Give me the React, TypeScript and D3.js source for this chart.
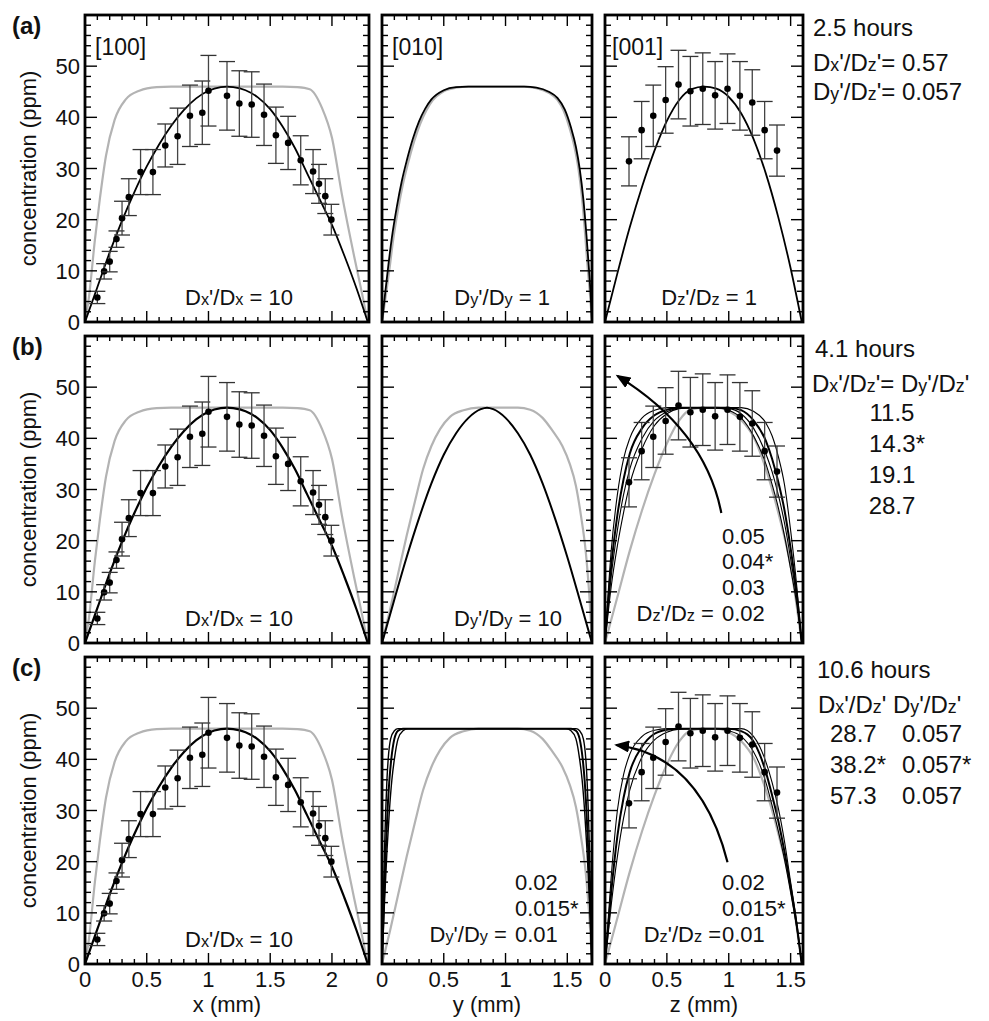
import React from 'react';
import * as d3 from 'd3';

// ---------- tick labels ----------
const concTicks = [0, 10, 20, 30, 40, 50];
const xTickLabels = [0, 0.5, 1, 1.5, 2];
const yTickLabels = [0, 0.5, 1, 1.5];
const zTickLabels = [0, 0.5, 1, 1.5];

// ---------- measured profiles (points with error bars) ----------
const xPos = [0.1, 0.155, 0.2, 0.255, 0.3, 0.355, 0.45, 0.55, 0.65, 0.75, 0.85, 0.95, 1.0, 1.15, 1.25, 1.35, 1.45, 1.546, 1.645, 1.747, 1.847, 1.895, 1.946, 1.995];
const xConc = [4.8, 9.9, 11.8, 16.2, 20.3, 24.4, 29.3, 29.3, 34.5, 36.3, 40.3, 40.9, 45.2, 44.2, 42.7, 42.5, 40.5, 36.5, 35.0, 31.6, 29.4, 27.0, 24.6, 20.0];
const xErr = [1.2, 1.5, 2, 1.6, 3.3, 3.6, 4.4, 4.4, 4.2, 5.5, 6, 6.2, 6.9, 6.7, 6.4, 6.4, 6, 5.5, 5.2, 4.8, 4.3, 3.8, 3.4, 3];

const zPos = [0.194, 0.296, 0.39, 0.49, 0.594, 0.69, 0.79, 0.89, 0.99, 1.09, 1.19, 1.29, 1.39];
const zConc = [31.4, 37.5, 40.3, 43.4, 46.4, 45.1, 45.6, 44.3, 45.6, 44.2, 42.9, 37.5, 33.5];
const zErr = [4.8, 5.6, 6, 6.5, 6.7, 6.8, 7, 6.6, 6.8, 6.7, 6.4, 5.6, 5];

// ---------- model curves [position mm, ppm] ----------
const xGray = [[0, 0], [0.03, 4.5], [0.08, 16], [0.12, 24], [0.17, 32.5], [0.24, 39.5], [0.33, 43.5], [0.44, 45.2], [0.58, 45.9], [0.7, 46], [1.6, 46], [1.72, 45.9], [1.82, 45.5], [1.92, 41.8], [2.0, 36], [2.08, 25], [2.18, 12.8], [2.245, 5.4], [2.29, 0]];
const xFit = [[0, 0], [0.1, 6.8], [0.2, 13.6], [0.3, 19.8], [0.4, 25.4], [0.5, 30.4], [0.6, 34.7], [0.7, 38.4], [0.8, 41.4], [0.9, 43.7], [1.0, 45.2], [1.1, 45.9], [1.15, 46], [1.2, 45.9], [1.3, 45.3], [1.4, 43.9], [1.5, 41.6], [1.6, 38.2], [1.7, 34], [1.8, 29], [1.9, 24], [2.0, 19], [2.1, 13], [2.2, 6.5], [2.29, 0]];

const yBlackA = [[0, 0], [0.025, 5.5], [0.05, 10.8], [0.08, 16.5], [0.12, 22.5], [0.16, 27.5], [0.2, 31.5], [0.25, 35.8], [0.3, 39.2], [0.35, 41.7], [0.4, 43.5], [0.5, 45.3], [0.6, 45.9], [0.7, 46], [1.15, 46], [1.25, 45.8], [1.35, 45], [1.42, 43.8], [1.48, 41.5], [1.53, 38], [1.57, 34.2], [1.6, 30], [1.63, 24], [1.655, 17], [1.675, 10.5], [1.69, 5], [1.7, 0]];
const yGrayA = [[0, 0], [0.03, 5], [0.06, 10.3], [0.09, 16], [0.13, 22], [0.17, 27], [0.21, 31], [0.26, 35.3], [0.31, 38.8], [0.36, 41.4], [0.41, 43.3], [0.5, 45.1], [0.6, 45.8], [0.7, 46], [1.15, 46], [1.25, 45.7], [1.35, 44.8], [1.42, 43.4], [1.47, 41.3], [1.52, 37.8], [1.56, 34], [1.59, 30], [1.62, 24], [1.645, 17], [1.665, 10.5], [1.685, 5], [1.7, 0]];
const yBlackB = [[0, 0], [0.1, 8.5], [0.2, 16.8], [0.3, 24.4], [0.4, 31.2], [0.5, 36.8], [0.6, 41], [0.7, 44], [0.8, 45.7], [0.85, 46], [0.9, 45.7], [1.0, 44], [1.1, 41], [1.2, 36.8], [1.3, 31.2], [1.4, 24.4], [1.5, 16.8], [1.6, 8.5], [1.7, 0]];
const yGrayBC = [[0, 0], [0.065, 6.5], [0.13, 13.5], [0.2, 21], [0.27, 28], [0.333, 34], [0.4, 38.5], [0.47, 41.8], [0.55, 44.2], [0.66, 45.5], [0.78, 46], [1.1, 46], [1.2, 45.6], [1.3, 44], [1.38, 41.5], [1.46, 38.5], [1.52, 35], [1.57, 30.7], [1.61, 25], [1.65, 17.7], [1.675, 10.5], [1.69, 4.7], [1.7, 0]];
const yC020 = [[0, 0], [0.01, 12], [0.02, 22], [0.03, 30], [0.04, 36], [0.05, 40], [0.07, 44], [0.1, 45.6], [0.13, 46], [1.57, 46], [1.6, 45.6], [1.63, 44], [1.65, 40], [1.66, 36], [1.67, 30], [1.68, 22], [1.69, 12], [1.7, 0]];
const yC015 = [[0, 0], [0.015, 12], [0.03, 22], [0.045, 30], [0.06, 36], [0.075, 40], [0.1, 44], [0.13, 45.6], [0.17, 46], [1.53, 46], [1.57, 45.6], [1.6, 44], [1.625, 40], [1.64, 36], [1.655, 30], [1.67, 22], [1.685, 12], [1.7, 0]];
const yC010 = [[0, 0], [0.02, 12], [0.04, 22], [0.06, 30], [0.08, 36], [0.1, 40], [0.13, 44], [0.17, 45.6], [0.21, 46], [1.49, 46], [1.53, 45.6], [1.57, 44], [1.6, 40], [1.62, 36], [1.64, 30], [1.66, 22], [1.68, 12], [1.7, 0]];

const zBlackA = [[0, 0], [0.1, 9.5], [0.2, 18.5], [0.3, 26.5], [0.4, 33.5], [0.5, 39.3], [0.6, 43.4], [0.7, 45.5], [0.8, 46], [0.9, 45.6], [1.0, 44], [1.1, 40.8], [1.2, 35.8], [1.3, 29], [1.4, 20.5], [1.5, 10.5], [1.59, 0]];
const zGray = [[0, 0], [0.1, 9], [0.2, 18], [0.3, 26], [0.4, 33], [0.5, 39], [0.6, 43.5], [0.7, 45.7], [0.8, 46], [0.9, 46], [1.0, 45.3], [1.1, 43.6], [1.2, 40.3], [1.3, 34], [1.4, 25.5], [1.5, 15], [1.59, 0]];
const zB005 = [[0, 0], [0.05, 18], [0.1, 29], [0.15, 36], [0.2, 40], [0.3, 44], [0.4, 45.5], [0.5, 46], [1.1, 46], [1.2, 45.3], [1.3, 43], [1.35, 40.5], [1.4, 36.5], [1.45, 31], [1.5, 22], [1.55, 11], [1.59, 0]];
const zB004 = [[0, 0], [0.05, 15], [0.1, 25], [0.15, 32], [0.2, 37], [0.3, 42], [0.4, 44.5], [0.5, 45.6], [0.6, 46], [1.0, 46], [1.1, 45.5], [1.2, 43.5], [1.3, 39.5], [1.35, 36], [1.4, 31.5], [1.45, 26], [1.5, 18.5], [1.55, 9.5], [1.59, 0]];
const zB003 = [[0, 0], [0.05, 13], [0.1, 22], [0.15, 29], [0.2, 34], [0.3, 40], [0.4, 43.5], [0.5, 45.2], [0.6, 45.9], [0.7, 46], [1.0, 45.8], [1.1, 44.8], [1.2, 42], [1.3, 37], [1.35, 33.5], [1.4, 29], [1.45, 23.5], [1.5, 16.5], [1.55, 8.5], [1.59, 0]];
const zB002 = [[0, 0], [0.05, 11], [0.1, 19], [0.15, 25.5], [0.2, 31], [0.3, 38], [0.4, 42.5], [0.5, 44.8], [0.6, 45.8], [0.7, 46], [0.9, 46], [1.0, 45.5], [1.1, 44], [1.2, 40.5], [1.3, 35], [1.35, 31], [1.4, 26.5], [1.45, 21], [1.5, 14.5], [1.55, 7.5], [1.59, 0]];
const zC020 = [[0, 0], [0.05, 17], [0.1, 30], [0.15, 37], [0.2, 41], [0.3, 44.5], [0.4, 45.7], [0.5, 46], [1.1, 46], [1.2, 44.5], [1.25, 42.5], [1.3, 39.5], [1.35, 35.5], [1.4, 30.5], [1.45, 24], [1.5, 16], [1.55, 8], [1.59, 0]];
const zC015 = [[0, 0], [0.05, 14], [0.1, 25], [0.15, 32.5], [0.2, 37.5], [0.3, 42.5], [0.4, 45], [0.5, 45.8], [0.6, 46], [1.0, 46], [1.1, 45.5], [1.2, 43.5], [1.25, 41], [1.3, 37.5], [1.35, 33], [1.4, 28], [1.45, 22], [1.5, 15], [1.55, 7.5], [1.59, 0]];
const zC010 = [[0, 0], [0.05, 11.5], [0.1, 21], [0.15, 28.5], [0.2, 34], [0.3, 40.5], [0.4, 43.8], [0.5, 45.3], [0.6, 45.9], [0.7, 46], [0.9, 46], [1.0, 45.6], [1.1, 44.5], [1.2, 41.5], [1.25, 39], [1.3, 35.5], [1.35, 31], [1.4, 26], [1.45, 20.5], [1.5, 14], [1.55, 7], [1.59, 0]];

// arrows [tail, control, head] in (mm, ppm)
const arrowB = [[0.94, 25.4], [0.81, 41.6], [0.1, 52.2]];
const arrowC = [[0.99, 19.9], [0.77, 40.8], [0.09, 42.8]];

// ---------- layout ----------
const FONT = 'Liberation Sans, Arial, Helvetica, sans-serif';
const rowTops = [15, 336, 657];
const rowH = 307;
const cols = [
  { x0: 85, x1: 369, max: 2.3 },
  { x0: 382, x1: 592, max: 1.7 },
  { x0: 605, x1: 803, max: 1.6 },
];

type Curve = { pts: number[][]; gray?: boolean; w?: number };

function Rich({ x, y, text, anchor = 'start', size = 22 }: any) {
  const parts: { t: string; s: boolean }[] = [];
  let buf = '';
  for (let i = 0; i < text.length; i++) {
    if (text[i] === '_') {
      if (buf) { parts.push({ t: buf, s: false }); buf = ''; }
      parts.push({ t: text[i + 1], s: true });
      i++;
    } else buf += text[i];
  }
  if (buf) parts.push({ t: buf, s: false });
  return (
    <text x={x} y={y} textAnchor={anchor} fontSize={size} fontFamily={FONT} fill="#111" style={{ whiteSpace: 'pre' }}>
      {parts.map((p, i) => (
        <tspan key={i} fontSize={p.s ? size * 0.74 : size}>{p.t}</tspan>
      ))}
    </text>
  );
}

function Panel({ row, col, curves, data, arrow, children }: any) {
  const c = cols[col];
  const top = rowTops[row];
  const bottom = top + rowH;
  const xs = d3.scaleLinear().domain([0, c.max]).range([c.x0, c.x1]);
  const ys = d3.scaleLinear().domain([0, 60]).range([bottom, top]);
  const line = d3.line<number[]>().x(d => xs(d[0])).y(d => ys(d[1])).curve(d3.curveMonotoneX);
  const xt = d3.range(0, c.max + 1e-6, 0.1);
  const yt = d3.range(0, 60.001, 2);
  const isMajX = (v: number) => Math.abs(v / 0.5 - Math.round(v / 0.5)) < 1e-6;
  const isMajY = (v: number) => Math.abs(v % 10) < 1e-6;
  let arrowPath = null;
  if (arrow) {
    const [p0, p1, p2] = arrow;
    arrowPath = `M${xs(p0[0])},${ys(p0[1])} Q${xs(p1[0])},${ys(p1[1])} ${xs(p2[0])},${ys(p2[1])}`;
  }
  return (
    <g>
      <defs>
        <clipPath id={`clip-${row}-${col}`}>
          <rect x={c.x0} y={top} width={c.x1 - c.x0} height={rowH} />
        </clipPath>
      </defs>
      <g clipPath={`url(#clip-${row}-${col})`}>
        {curves.map((cv: Curve, i: number) => (
          <path key={i} d={line(cv.pts) || ''} fill="none" stroke={cv.gray ? '#b3b3b3' : '#000'} strokeWidth={cv.w || (cv.gray ? 2.2 : 1.6)} />
        ))}
      </g>
      {data && data.pos.map((p: number, i: number) => {
        const cx = xs(p);
        const lo = ys(data.conc[i] - data.err[i]);
        const hi = ys(data.conc[i] + data.err[i]);
        return (
          <g key={i}>
            <line x1={cx} x2={cx} y1={lo} y2={hi} stroke="#444" strokeWidth={1.3} />
            <line x1={cx - 8} x2={cx + 8} y1={lo} y2={lo} stroke="#333" strokeWidth={1.3} />
            <line x1={cx - 8} x2={cx + 8} y1={hi} y2={hi} stroke="#333" strokeWidth={1.3} />
            <circle cx={cx} cy={ys(data.conc[i])} r={3.3} fill="#000" />
          </g>
        );
      })}
      {arrowPath && <path d={arrowPath} fill="none" stroke="#000" strokeWidth={2.2} markerEnd="url(#arrowhead)" />}
      {/* ticks */}
      {xt.map((v, i) => {
        const L = isMajX(v) ? 11 : 5;
        const px = xs(v);
        return (
          <g key={'xt' + i}>
            <line x1={px} x2={px} y1={bottom} y2={bottom - L} stroke="#000" strokeWidth={1.4} />
            <line x1={px} x2={px} y1={top} y2={top + L} stroke="#000" strokeWidth={1.4} />
          </g>
        );
      })}
      {yt.map((v, i) => {
        const L = isMajY(v) ? 12 : 6;
        const py = ys(v);
        return (
          <g key={'yt' + i}>
            <line x1={c.x0} x2={c.x0 + L} y1={py} y2={py} stroke="#000" strokeWidth={1.4} />
            <line x1={c.x1} x2={c.x1 - L} y1={py} y2={py} stroke="#000" strokeWidth={1.4} />
          </g>
        );
      })}
      <rect x={c.x0} y={top} width={c.x1 - c.x0} height={rowH} fill="none" stroke="#000" strokeWidth={2.8} />
      {col === 0 && concTicks.map(v => (
        <text key={'yl' + v} x={c.x0 - 5} y={ys(v) + 8} textAnchor="end" fontSize={22} fontFamily={FONT} fill="#111">{v}</text>
      ))}
      {row === 2 && (col === 0 ? xTickLabels : col === 1 ? yTickLabels : zTickLabels).map(v => (
        <text key={'xl' + v} x={xs(v)} y={bottom + 23} textAnchor="middle" fontSize={22} fontFamily={FONT} fill="#111">{v}</text>
      ))}
      {row === 2 && (
        <text x={(c.x0 + c.x1) / 2} y={bottom + 48} textAnchor="middle" fontSize={22} fontFamily={FONT} fill="#111">
          {['x (mm)', 'y (mm)', 'z (mm)'][col]}
        </text>
      )}
      {col === 0 && (
        <text transform={`translate(36,${top + rowH / 2}) rotate(-90)`} textAnchor="middle" fontSize={22} fontFamily={FONT} fill="#111">concentration (ppm)</text>
      )}
      {children}
    </g>
  );
}

export default function App() {
  const xData = { pos: xPos, conc: xConc, err: xErr };
  const zData = { pos: zPos, conc: zConc, err: zErr };
  const bot = (r: number) => rowTops[r] + rowH;
  const xPanel = (r: number) => (
    <Panel row={r} col={0} curves={[{ pts: xGray, gray: true }, { pts: xFit, w: r === 0 ? 1.8 : 2.2 }]} data={xData}>
      <Rich x={293} y={bot(r) - 17} text={"D_x'/D_x = 10"} anchor="end" />
    </Panel>
  );
  const annot = (r: number, k: number) => rowTops[r] + [21, 56, 85, 116, 147, 178][k];
  return (
    <svg width={989} height={1021} style={{ position: 'absolute', left: 0, top: 0, background: '#fff' }} fontFamily={FONT}>
      <defs>
        <marker id="arrowhead" markerUnits="userSpaceOnUse" markerWidth={16} markerHeight={12} refX={13} refY={6} orient="auto">
          <path d="M0,0 L15,6 L0,12 Z" fill="#000" />
        </marker>
      </defs>
      <rect width={989} height={1021} fill="#fff" />

      {/* row a */}
      {xPanel(0)}
      <Panel row={0} col={1} curves={[{ pts: yGrayA, gray: true }, { pts: yBlackA, w: 1.8 }]}>
        <Rich x={550} y={bot(0) - 17} text={"D_y'/D_y = 1"} anchor="end" />
      </Panel>
      <Panel row={0} col={2} curves={[{ pts: zBlackA, w: 1.8 }]} data={zData}>
        <Rich x={757} y={bot(0) - 17} text={"D_z'/D_z = 1"} anchor="end" />
      </Panel>
      <text x={95} y={rowTops[0] + 40} fontSize={23} fontFamily={FONT} fill="#111">[100]</text>
      <text x={392} y={rowTops[0] + 40} fontSize={23} fontFamily={FONT} fill="#111">[010]</text>
      <text x={612} y={rowTops[0] + 40} fontSize={23} fontFamily={FONT} fill="#111">[001]</text>

      {/* row b */}
      {xPanel(1)}
      <Panel row={1} col={1} curves={[{ pts: yGrayBC, gray: true }, { pts: yBlackB, w: 2 }]}>
        <Rich x={562} y={bot(1) - 17} text={"D_y'/D_y = 10"} anchor="end" />
      </Panel>
      <Panel row={1} col={2} curves={[{ pts: zGray, gray: true }, { pts: zB005, w: 1.1 }, { pts: zB004, w: 2 }, { pts: zB003, w: 1.1 }, { pts: zB002, w: 1.1 }]} data={zData} arrow={arrowB}>
        <Rich x={722} y={bot(1) - 99} text={"0.05"} />
        <Rich x={722} y={bot(1) - 74} text={"0.04*"} />
        <Rich x={722} y={bot(1) - 48} text={"0.03"} />
        <Rich x={720} y={bot(1) - 22} text={"D_z'/D_z = "} anchor="end" />
        <Rich x={722} y={bot(1) - 22} text={"0.02"} />
      </Panel>

      {/* row c */}
      {xPanel(2)}
      <Panel row={2} col={1} curves={[{ pts: yGrayBC, gray: true }, { pts: yC020, w: 1.4 }, { pts: yC015, w: 2 }, { pts: yC010, w: 1.4 }]}>
        <Rich x={515} y={bot(2) - 74} text={"0.02"} />
        <Rich x={515} y={bot(2) - 48} text={"0.015*"} />
        <Rich x={513} y={bot(2) - 22} text={"D_y'/D_y = "} anchor="end" />
        <Rich x={515} y={bot(2) - 22} text={"0.01"} />
      </Panel>
      <Panel row={2} col={2} curves={[{ pts: zGray, gray: true }, { pts: zC020, w: 1.1 }, { pts: zC015, w: 2 }, { pts: zC010, w: 1.1 }]} data={zData} arrow={arrowC}>
        <Rich x={722} y={bot(2) - 74} text={"0.02"} />
        <Rich x={722} y={bot(2) - 48} text={"0.015*"} />
        <Rich x={721} y={bot(2) - 22} text={"D_z'/D_z ="} anchor="end" />
        <Rich x={722} y={bot(2) - 22} text={"0.01"} />
      </Panel>

      {/* row labels */}
      {['(a)', '(b)', '(c)'].map((t, i) => (
        <text key={t} x={12} y={rowTops[i] + 19} fontSize={24} fontWeight="bold" fontFamily={FONT} fill="#111">{t}</text>
      ))}

      {/* right annotations */}
      <text x={813} y={annot(0, 0)} fontSize={24} fontFamily={FONT} fill="#111">2.5 hours</text>
      <Rich x={813} y={annot(0, 1)} text={"D_x'/D_z'= 0.57"} size={24} />
      <Rich x={813} y={annot(0, 2)} text={"D_y'/D_z'= 0.057"} size={24} />

      <text x={815} y={annot(1, 0)} fontSize={24} fontFamily={FONT} fill="#111">4.1 hours</text>
      <Rich x={812} y={annot(1, 1)} text={"D_x'/D_z'= D_y'/D_z'"} size={24} />
      {['11.5', '14.3*', '19.1', '28.7'].map((t, i) => (
        <Rich key={t} x={t.endsWith('*') ? 897 : 892} y={annot(1, 2 + i)} text={t} size={24} anchor="middle" />
      ))}

      <text x={817} y={annot(2, 0)} fontSize={24} fontFamily={FONT} fill="#111">10.6 hours</text>
      <Rich x={818} y={annot(2, 1)} text={"D_x'/D_z' D_y'/D_z'"} size={24} />
      {[['28.7', '0.057'], ['38.2*', '0.057*'], ['57.3', '0.057']].map((pair, i) => (
        <g key={i}>
          <Rich x={830} y={annot(2, 2 + i)} text={pair[0]} size={24} />
          <Rich x={902} y={annot(2, 2 + i)} text={pair[1]} size={24} />
        </g>
      ))}
    </svg>
  );
}
